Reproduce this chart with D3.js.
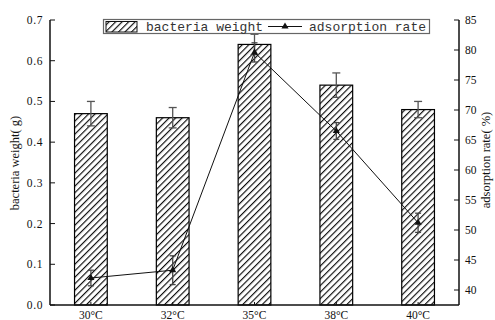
<!DOCTYPE html>
<html>
<head>
<meta charset="utf-8">
<script src="https://cdn.jsdelivr.net/npm/d3@7"></script>
<style>
  html, body { margin: 0; padding: 0; background: #fff; }
  svg { display: block; }
  .tick-label { font-family: "Liberation Serif", "Times New Roman", serif; font-size: 11.5px; fill: #111; }
  .axis-title { font-family: "Liberation Serif", "Times New Roman", serif; font-size: 12.5px; fill: #111; }
  .legend-text { font-family: "Liberation Mono", "Courier New", monospace; font-size: 13px; fill: #333; }
</style>
</head>
<body>
<script>
// Incubation temperatures
const categories = ["30°C", "32°C", "35°C", "38°C", "40°C"];
// Bacteria dry weight (g) and its standard deviation
const weightValues = [0.47, 0.46, 0.64, 0.54, 0.48];
const weightErrors = [0.03, 0.025, 0.025, 0.03, 0.02];
// Adsorption rate (%) and its standard deviation
const rateValues = [42.0, 43.3, 79.6, 66.5, 51.2];
const rateErrors = [1.3, 2.4, 1.6, 1.4, 1.6];
// Axis ticks
const leftTicks = [0.0, 0.1, 0.2, 0.3, 0.4, 0.5, 0.6, 0.7];
const rightTicks = [40, 45, 50, 55, 60, 65, 70, 75, 80, 85];

const W = 495, H = 320;
const plotLeft = 50, plotRight = 459, plotTop = 20, plotBottom = 305;

const svg = d3.select("body").append("svg").attr("width", W).attr("height", H);

// Diagonal hatch fill for the bars
const defs = svg.append("defs");
const pat = defs.append("pattern")
  .attr("id", "hatch")
  .attr("patternUnits", "userSpaceOnUse")
  .attr("width", 4.6).attr("height", 4.6)
  .attr("patternTransform", "rotate(45)");
pat.append("rect").attr("width", 4.6).attr("height", 4.6).attr("fill", "#fff");
pat.append("line").attr("x1", 0.6).attr("y1", 0).attr("x2", 0.6).attr("y2", 4.6)
  .attr("stroke", "#000").attr("stroke-width", 1.1);

const x = d3.scaleBand().domain(categories).range([plotLeft, plotRight]).padding(0);
const yL = d3.scaleLinear().domain([0, 0.7]).range([plotBottom, plotTop]);
const yR = d3.scaleLinear().domain([37.5, 85]).range([plotBottom, plotTop]);
const barW = x.bandwidth() * 0.4;
const cx = c => x(c) + x.bandwidth() / 2;

// Bars
svg.append("g").selectAll("rect").data(categories).join("rect")
  .attr("x", c => cx(c) - barW / 2)
  .attr("y", (c, i) => yL(weightValues[i]))
  .attr("width", barW)
  .attr("height", (c, i) => yL(0) - yL(weightValues[i]))
  .attr("fill", "url(#hatch)")
  .attr("stroke", "#000").attr("stroke-width", 1.2);

// Vertical error bars with caps
function errorBars(g, scale, vals, errs, cap, color) {
  categories.forEach((c, i) => {
    const xc = cx(c);
    const y1 = scale(vals[i] + errs[i]), y2 = scale(vals[i] - errs[i]);
    g.append("line").attr("x1", xc).attr("x2", xc).attr("y1", y1).attr("y2", y2);
    g.append("line").attr("x1", xc - cap).attr("x2", xc + cap).attr("y1", y1).attr("y2", y1);
    g.append("line").attr("x1", xc - cap).attr("x2", xc + cap).attr("y1", y2).attr("y2", y2);
  });
  g.attr("stroke", color).attr("stroke-width", 1.3);
}
errorBars(svg.append("g"), yL, weightValues, weightErrors, 4, "#555");

// Adsorption rate line
const line = d3.line().x((d, i) => cx(categories[i])).y(d => yR(d));
svg.append("path").datum(rateValues)
  .attr("d", line).attr("fill", "none").attr("stroke", "#111").attr("stroke-width", 1);
errorBars(svg.append("g"), yR, rateValues, rateErrors, 3, "#444");
const tri = d3.symbol().type(d3.symbolTriangle).size(22);
svg.append("g").selectAll("path").data(rateValues).join("path")
  .attr("d", tri)
  .attr("transform", (d, i) => `translate(${cx(categories[i])},${yR(d)})`)
  .attr("fill", "#111");

// Axes
const axes = svg.append("g").attr("stroke", "#111").attr("stroke-width", 1.5).attr("fill", "none");
axes.append("line").attr("x1", plotLeft).attr("x2", plotLeft).attr("y1", plotTop).attr("y2", plotBottom);
axes.append("line").attr("x1", plotRight).attr("x2", plotRight).attr("y1", plotTop).attr("y2", plotBottom);
axes.append("line").attr("x1", plotLeft).attr("x2", plotRight).attr("y1", plotBottom).attr("y2", plotBottom);

// Left ticks and labels
svg.append("g").selectAll("line").data(leftTicks).join("line")
  .attr("x1", plotLeft).attr("x2", plotLeft + 5)
  .attr("y1", d => yL(d)).attr("y2", d => yL(d))
  .attr("stroke", "#111").attr("stroke-width", 1);
svg.append("g").selectAll("text").data(leftTicks).join("text")
  .attr("class", "tick-label")
  .attr("x", 43).attr("y", d => yL(d) + 4)
  .attr("text-anchor", "end")
  .attr("letter-spacing", "0.6px")
  .text(d => d3.format(".1f")(d));

// Right ticks and labels
svg.append("g").selectAll("line").data(rightTicks).join("line")
  .attr("x1", plotRight - 5).attr("x2", plotRight)
  .attr("y1", d => yR(d)).attr("y2", d => yR(d))
  .attr("stroke", "#111").attr("stroke-width", 1);
svg.append("g").selectAll("text").data(rightTicks).join("text")
  .attr("class", "tick-label")
  .attr("x", 465).attr("y", d => yR(d) + 4)
  .text(d => d);

// Category ticks and labels
svg.append("g").selectAll("line").data(categories).join("line")
  .attr("x1", cx).attr("x2", cx)
  .attr("y1", plotBottom).attr("y2", plotBottom - 3)
  .attr("stroke", "#111").attr("stroke-width", 1);
svg.append("g").selectAll("text").data(categories).join("text")
  .attr("class", "tick-label")
  .attr("x", cx).attr("y", 319)
  .attr("text-anchor", "middle")
  .text(d => d);

// Axis titles
svg.append("text").attr("class", "axis-title")
  .attr("transform", "translate(19,163) rotate(-90)")
  .attr("text-anchor", "middle")
  .text("bacteria weight( g)");
svg.append("text").attr("class", "axis-title")
  .attr("transform", "translate(490,160) rotate(-90)")
  .attr("text-anchor", "middle")
  .text("adsorption rate( %)");

// Legend
const lg = svg.append("g");
lg.append("rect").attr("x", 103.5).attr("y", 19.5).attr("width", 326).attr("height", 14)
  .attr("fill", "#fff").attr("stroke", "#666").attr("stroke-width", 1.2);
lg.append("rect").attr("x", 106).attr("y", 21.5).attr("width", 31).attr("height", 10.5)
  .attr("fill", "url(#hatch)").attr("stroke", "#111").attr("stroke-width", 1);
lg.append("text").attr("class", "legend-text").attr("x", 146).attr("y", 30.5).text("bacteria weight");
lg.append("line").attr("x1", 268).attr("x2", 302).attr("y1", 26.5).attr("y2", 26.5)
  .attr("stroke", "#111").attr("stroke-width", 1);
lg.append("path").attr("d", tri).attr("transform", "translate(285,26.5)").attr("fill", "#111");
lg.append("text").attr("class", "legend-text").attr("x", 309).attr("y", 30.5).text("adsorption rate");
</script>
</body>
</html>
